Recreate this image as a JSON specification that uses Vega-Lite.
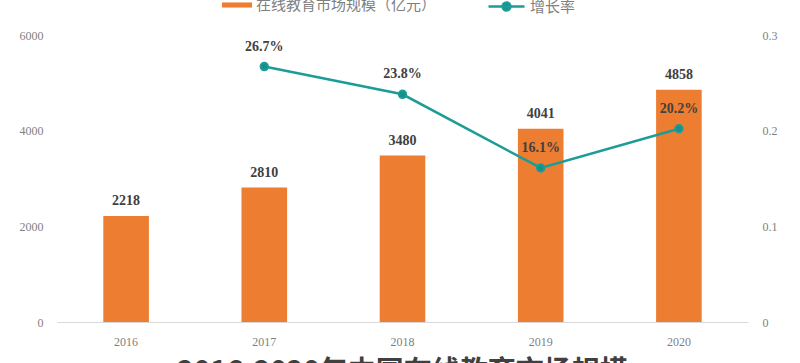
{
  "$schema": "https://vega.github.io/schema/vega-lite/v6.json",
  "width": 691,
  "height": 287,
  "autosize": {"type": "none"},
  "padding": {"left": 57, "top": 35, "right": 52, "bottom": 41},
  "background": "white",
  "config": {"view": {"stroke": null}},
  "title": {"text": "2016-2020年中国在线教育市场规模", "orient": "bottom", "anchor": "middle", "fontSize": 28, "font": "Noto Sans CJK SC", "fontWeight": "bold", "color": "#404040", "offset": 12},
  "data": {"values": [
    {"year": "2016", "scale": 2218, "rate": null},
    {"year": "2017", "scale": 2810, "rate": 0.267},
    {"year": "2018", "scale": 3480, "rate": 0.238},
    {"year": "2019", "scale": 4041, "rate": 0.161},
    {"year": "2020", "scale": 4858, "rate": 0.202}
  ]},
  "encoding": {
    "x": {"field": "year", "type": "ordinal", "scale": {"paddingInner": 0.67, "paddingOuter": 0.335},
      "axis": {"title": null, "labelAngle": 0, "domainColor": "#d9d9d9", "ticks": false, "labelColor": "#7f7f7f", "labelFont": "Liberation Serif", "labelFontSize": 12, "labelPadding": 14}}
  },
  "layer": [
    {
      "encoding": {"y": {"field": "scale", "type": "quantitative", "scale": {"domain": [0, 6000]},
        "axis": {"title": null, "values": [0, 2000, 4000, 6000], "format": "d", "domain": false, "ticks": false, "grid": false, "labelColor": "#7f7f7f", "labelFont": "Liberation Serif", "labelFontSize": 12, "labelPadding": 14}}},
      "layer": [
        {"mark": {"type": "bar"},
         "encoding": {"color": {"datum": "在线教育市场规模（亿元）", "scale": {"range": ["#ED7D31"]},
           "legend": {"orient": "none", "legendX": 165, "legendY": -45, "title": null, "symbolType": "M-1,-0.17H1V0.17H-1Z", "symbolSize": 900, "labelFont": "Noto Sans CJK SC", "labelFontSize": 15, "labelColor": "#7f7f7f", "labelLimit": 0, "padding": 0, "symbolStrokeWidth": 0}}}},
        {"mark": {"type": "text", "dy": -15, "baseline": "middle", "font": "Liberation Serif", "fontWeight": "bold", "fontSize": 14, "color": "#404040"},
         "encoding": {"text": {"field": "scale", "type": "quantitative"}}}
      ]
    },
    {
      "transform": [{"filter": "datum.rate != null"}],
      "encoding": {"y": {"field": "rate", "type": "quantitative", "scale": {"domain": [0, 0.3]},
        "axis": {"title": null, "orient": "right", "values": [0, 0.1, 0.2, 0.3], "format": ".1~f", "domain": false, "ticks": false, "grid": false, "labelColor": "#7f7f7f", "labelFont": "Liberation Serif", "labelFontSize": 12, "labelPadding": 14}}},
      "layer": [
        {"mark": {"type": "line", "strokeWidth": 2.5, "point": {"filled": true, "size": 55, "fill": "#1A8F8A", "stroke": null}},
         "encoding": {"stroke": {"datum": "增长率", "scale": {"range": ["#1C9C96"]},
           "legend": {"orient": "none", "legendX": 430, "legendY": -48, "title": null, "symbolType": "M-1,0H1M0.22,0A0.22,0.22 0 1 1 -0.22,0A0.22,0.22 0 1 1 0.22,0Z", "symbolSize": 1296, "symbolFillColor": "#1A8F8A", "symbolStrokeWidth": 2.5, "labelFont": "Noto Sans CJK SC", "labelFontSize": 15, "labelColor": "#7f7f7f", "labelLimit": 0, "padding": 0}}}},
        {"mark": {"type": "text", "dy": -20, "baseline": "middle", "font": "Liberation Serif", "fontWeight": "bold", "fontSize": 14, "color": "#404040"},
         "encoding": {"text": {"field": "rate", "type": "quantitative", "format": ".1%"}}}
      ]
    }
  ],
  "resolve": {"scale": {"y": "independent"}}
}
